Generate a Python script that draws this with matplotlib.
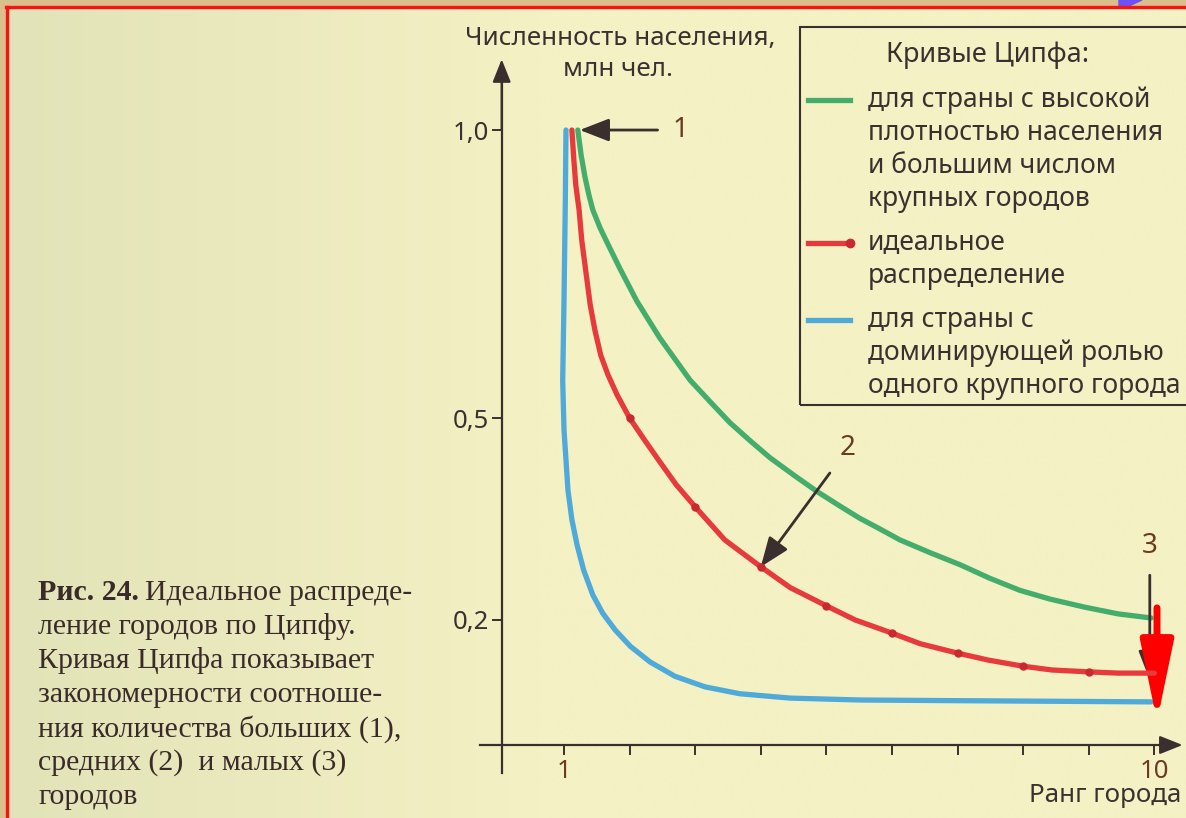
import numpy as np
import matplotlib.pyplot as plt
from matplotlib.patches import Rectangle, Polygon
from matplotlib.lines import Line2D

W, H = 1186, 818

# ---- data ----
rank_ticks = [1, 2, 3, 4, 5, 6, 7, 8, 9, 10]
rank_tick_labels = ['1', '', '', '', '', '', '', '', '', '10']
pop_ticks = [0.2, 0.5, 1.0]
pop_tick_labels = ['0,2', '0,5', '1,0']

# high density country, many large cities
green_rank = [1.21, 1.26, 1.32, 1.38, 1.44, 1.55, 1.66, 1.85, 2.11, 2.46, 2.92, 3.23,
              3.53, 3.84, 4.14, 4.52, 4.87, 5.21, 5.51, 5.82, 6.12, 6.58, 7.04, 7.49,
              7.95, 8.41, 8.94, 9.45, 9.95]
green_pop = [1.0, 0.957, 0.918, 0.887, 0.861, 0.830, 0.804, 0.760, 0.703, 0.639, 0.566, 0.528,
             0.493, 0.466, 0.441, 0.414, 0.390, 0.369, 0.351, 0.335, 0.319, 0.300, 0.282, 0.262,
             0.244, 0.231, 0.219, 0.209, 0.203]

# ideal distribution (dots on whole ranks)
red_rank = [1.12, 1.15, 1.18, 1.23, 1.27, 1.34, 1.40, 1.47, 1.56, 1.67, 1.81, 2, 2.23, 2.46,
            2.71, 3, 3.45, 4, 4.45, 5, 5.44, 6, 6.43, 7, 7.46, 8, 8.44, 9, 9.45, 10]
red_pop = [1.0, 0.948, 0.904, 0.861, 0.809, 0.748, 0.696, 0.653, 0.609, 0.575, 0.540, 0.5,
           0.467, 0.435, 0.401, 0.368, 0.319, 0.279, 0.248, 0.221, 0.200, 0.179, 0.162, 0.147,
           0.136, 0.126, 0.120, 0.117, 0.115, 0.115]

# one dominating city
blue_rank = [1.03, 1.02, 1.0, 0.98, 1.0, 1.03, 1.06, 1.12, 1.20, 1.30, 1.44, 1.59, 1.78,
             2.01, 2.31, 2.69, 3.15, 3.68, 4.45, 5.52, 6.88, 8.41, 9.95]
blue_pop = [1.0, 0.878, 0.705, 0.566, 0.482, 0.438, 0.393, 0.349, 0.311, 0.274, 0.237, 0.210,
            0.184, 0.158, 0.133, 0.110, 0.093, 0.082, 0.075, 0.072, 0.071, 0.070, 0.069]

GREEN = '#45ad6c'
RED = '#e63a3c'
BLUE = '#4fa9d9'
AXC = '#3a2f2e'
TXT = '#3b3030'
NUMC = '#6b3a22'
CAPC = '#3a2a2a'

plt.rcParams['font.family'] = ['Noto Sans', 'DejaVu Sans']


def fx(x):
    return x / W


def fy(y):
    return 1 - y / H


fig = plt.figure(figsize=(W / 100, H / 100), dpi=100)
fig.patch.set_facecolor('#d8bf8c')

# scanned page: greyish at the gutter, pale yellow elsewhere
bg = fig.add_axes([fx(7), 0, 1 - fx(7), fy(7)], zorder=-5)
bg.axis('off')
cols = np.linspace(0, 1, 400)
left = np.array([226, 227, 184]) / 255
page = np.array([244, 241, 196]) / 255
mix = np.clip(cols / 0.45, 0, 1)[:, None]
strip = (left * (1 - mix) + page * mix)[None, :, :]
bg.imshow(strip, aspect='auto', extent=(0, 1, 0, 1), interpolation='bilinear')
bg.set_xlim(0, 1)
bg.set_ylim(0, 1)

fig.add_artist(Line2D([fx(7), fx(7)], [fy(7), 0], transform=fig.transFigure, color='#ff1010', lw=2.4))
fig.add_artist(Line2D([fx(6), 1], [fy(7), fy(7)], transform=fig.transFigure, color='#ff1010', lw=2.4))
fig.add_artist(Polygon([(fx(1119), fy(0)), (fx(1142), fy(0)), (fx(1129), fy(6)), (fx(1119), fy(6))],
                       closed=True, transform=fig.transFigure, color='#6c52f2'))

# axes: 1 unit of rank = 65.6 px, rank 1 at x=564
ax = fig.add_axes([fx(468.9), fy(780), (1183.9 - 468.9) / W, (780 - 55) / H])
ax.patch.set_alpha(0)

# the drawn axis is schematic: "0,5" sits higher than a linear axis would put it
axis_v = [-1, 0, 0.2, 0.5, 1.0, 2]
axis_p = [-1, 0, 0.2033, 0.5317, 1.0, 2]
ax.set_yscale('function', functions=(lambda v: np.interp(v, axis_v, axis_p),
                                     lambda p: np.interp(p, axis_p, axis_v)))
ax.set_xlim(-0.45, 10.45)
ax.set_ylim(-0.0569, 1.122)

ax.plot(green_rank, green_pop, color=GREEN, lw=3.8, solid_capstyle='round',
        solid_joinstyle='round', zorder=3)
dots = [i for i, r in enumerate(red_rank) if float(r).is_integer() and 1 < r < 10]
ax.plot(red_rank, red_pop, color=RED, lw=3.8, solid_capstyle='round', solid_joinstyle='round',
        zorder=4, marker='o', markevery=dots, ms=5, mfc='#c82a30', mec='#c82a30')
ax.plot(blue_rank, blue_pop, color=BLUE, lw=3.8, solid_capstyle='round',
        solid_joinstyle='round', zorder=3)

for s in ['top', 'right']:
    ax.spines[s].set_visible(False)
ax.spines['left'].set_position(('data', 0.05))
ax.spines['bottom'].set_position(('data', 0))
ax.spines['left'].set_bounds(-0.045, 1.08)
ax.spines['bottom'].set_bounds(-0.28, 10.3)
for s in ['left', 'bottom']:
    ax.spines[s].set_color(AXC)
    ax.spines[s].set_linewidth(1.6)

arrow_head = dict(arrowstyle='-|>,head_length=0.7,head_width=0.28', mutation_scale=20,
                  color=AXC, lw=1.6, shrinkA=0, shrinkB=0)
ax.annotate('', xy=(0.05, 1.115), xytext=(0.05, 1.0), arrowprops=arrow_head, annotation_clip=False)
ax.annotate('', xy=(10.43, 0), xytext=(10.2, 0), arrowprops=arrow_head, annotation_clip=False)

ax.set_xticks(rank_ticks, rank_tick_labels)
ax.set_yticks(pop_ticks, pop_tick_labels)
ax.minorticks_off()
ax.tick_params(axis='x', direction='out', length=7, width=1.4, pad=3, labelsize=18.5,
               color=AXC, labelcolor=NUMC)
ax.tick_params(axis='y', direction='out', length=7, width=1.4, pad=2, labelsize=18.5,
               color=AXC, labelcolor=TXT)

# callouts 1, 2, 3
callout = dict(arrowstyle='-|>,head_length=0.9,head_width=0.35', mutation_scale=20,
               color=AXC, lw=2, shrinkA=9, shrinkB=0)
ax.annotate('1', xy=(1.24, 1.0), xytext=(2.78, 1.0), ha='center', va='center',
            fontsize=20, color=NUMC, arrowprops=callout)
ax.annotate('2', xy=(4.0, 0.279), xytext=(5.33, 0.455), ha='center', va='center',
            fontsize=20, color=NUMC, arrowprops=callout)
ax.annotate('3', xy=(9.93, 0.104), xytext=(9.93, 0.31), ha='center', va='center',
            fontsize=20, color=NUMC, arrowprops=callout)
# red marker arrow laid over the scan
ax.annotate('', xy=(10.04, 0.038), xytext=(10.04, 0.218),
            arrowprops=dict(arrowstyle='-|>,head_length=2.4,head_width=0.5', mutation_scale=20,
                            color='#ff0000', lw=5, shrinkA=0, shrinkB=0))

# axis titles
fig.text(fx(620), fy(38), 'Численность населения,', ha='center', va='center', fontsize=18.7, color=TXT)
fig.text(fx(618), fy(70), 'млн чел.', ha='center', va='center', fontsize=18.7, color=TXT)
fig.text(fx(1181), fy(795), 'Ранг города', ha='right', va='center', fontsize=18.7, color=TXT)

# legend box
fig.add_artist(Rectangle((fx(800), fy(405)), fx(420), (405 - 27) / H, transform=fig.transFigure,
                         fill=False, edgecolor=AXC, lw=1.5))
fig.text(fx(988), fy(55), 'Кривые Ципфа:', ha='center', va='center', fontsize=19.5, color=TXT)
legend_rows = [
    (GREEN, None, ['для страны с высокой', 'плотностью населения', 'и большим числом', 'крупных городов'], 100),
    (RED, 'o', ['идеальное', 'распределение'], 243),
    (BLUE, None, ['для страны с', 'доминирующей ролью', 'одного крупного города'], 320),
]
for col, mk, lines, y0 in legend_rows:
    fig.add_artist(Line2D([fx(808), fx(850)], [fy(y0), fy(y0)], transform=fig.transFigure,
                          color=col, lw=3.8, marker=mk, markevery=[1] if mk else None,
                          ms=6, mfc='#c82a30', mec='#c82a30'))
    for k, t in enumerate(lines):
        fig.text(fx(868), fy(y0 + 33 * k), t, ha='left', va='center', fontsize=19, color=TXT)

# caption
cap = ['Идеальное распреде-', 'ление городов по Ципфу.', 'Кривая Ципфа показывает',
       'закономерности соотноше-', 'ния количества больших (1),', 'средних (2)  и малых (3)', 'городов']
serif = ['Liberation Serif', 'DejaVu Serif']
bold = fig.text(fx(38), fy(592), 'Рис. 24.', ha='left', va='center', fontsize=21.5, color=CAPC,
                family=serif, weight='bold')
ax.annotate(cap[0], xy=(1, 0), xycoords=bold, xytext=(4, 0), textcoords='offset points',
            ha='left', va='bottom', fontsize=21.5, color=CAPC, family=serif, annotation_clip=False)
for k, t in enumerate(cap[1:]):
    fig.text(fx(38), fy(592 + 34.2 * (k + 1)), t, ha='left', va='center', fontsize=21.5,
             color=CAPC, family=serif)

fig.savefig('out.png', dpi=100, facecolor=fig.get_facecolor())
